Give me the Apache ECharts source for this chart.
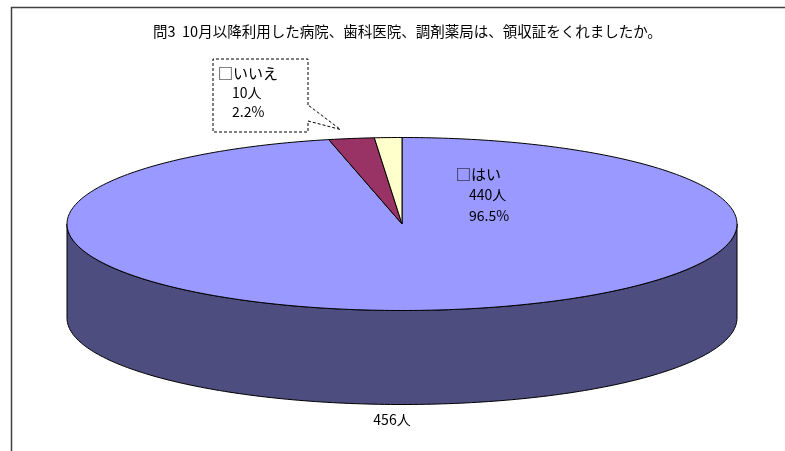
<!DOCTYPE html>
<html>
<head>
<meta charset="utf-8">
<script src="https://cdn.jsdelivr.net/npm/echarts@6/dist/echarts.min.js"></script>
<style>
html, body { margin: 0; padding: 0; background: #fff; }
#chart { width: 785px; height: 451px; }
</style>
</head>
<body>
<div id="chart"></div>
<script>
// データ
var categories = ['はい', 'いいえ', '無回答'];
var counts = [440, 10, 6];
var totalText = '456人';
var titleText = '問3  10月以降利用した病院、歯科医院、調剤薬局は、領収証をくれましたか。';

// 色
var topColors = ['#9999FF', '#993366', '#FFFFCC'];
var sideColors = ['#4D4D80', '#4D1A33', '#808066'];

// 楕円の形 (3D円グラフ)
var cx = 402, cy = 224, rx = 335, ry = 86.5, depth = 94;
var FONT = '"Noto Sans CJK JP", sans-serif';

// ラベル位置
var labelLayout = [
    { x: 456, y: 174, indent: 13, lh: 21 },
    { x: 218, y: 73, indent: 14, lh: 19.5 },
    null
];
var calloutBox = [213, 59, 95, 73];

var total = counts.reduce(function (a, b) { return a + b; }, 0);

function pt(deg, dz) {
    var r = deg * Math.PI / 180;
    return [cx + rx * Math.cos(r), cy - ry * Math.sin(r) + (dz || 0)];
}

function arc(from, to, dz) {
    // from > to (時計回り)
    var pts = [];
    for (var t = from; t > to; t -= 1) pts.push(pt(t, dz));
    pts.push(pt(to, dz));
    return pts;
}

function renderItem(params, api) {
    var i = params.dataIndex;
    var before = 0;
    for (var j = 0; j < i; j++) before += counts[j];
    var v = api.value(0);
    var a0 = 90 - 360 * before / total;
    var a1 = 90 - 360 * (before + v) / total;
    var children = [];

    // 側面 (手前側のみ)
    var s0 = Math.min(a0, 0), s1 = Math.max(a1, -180);
    if (s0 > s1) {
        var topEdge = arc(s0, s1, 0);
        var botEdge = arc(s0, s1, depth).reverse();
        children.push({
            type: 'polygon',
            shape: { points: topEdge.concat(botEdge) },
            style: { fill: sideColors[i], stroke: '#000', lineWidth: 1 }
        });
    }

    // 上面
    children.push({
        type: 'polygon',
        shape: { points: [[cx, cy]].concat(arc(a0, a1, 0)) },
        style: { fill: topColors[i], stroke: '#000', lineWidth: 1 }
    });

    // ラベル
    var lay = labelLayout[i];
    if (lay) {
        var pct = (v / total * 100).toFixed(1) + '%';
        var lines = ['□' + categories[i], v + '人', pct];
        lines.forEach(function (s, k) {
            children.push({
                type: 'text',
                x: lay.x + (k ? lay.indent : 0),
                y: lay.y + k * lay.lh,
                style: {
                    text: s, fill: '#000', font: (k ? '14px ' : '15px ') + FONT,
                    textAlign: 'left', textVerticalAlign: 'middle'
                }
            });
        });
        if (i === 1) {
            var mid = (a0 + a1) / 2;
            var edge = pt(mid, 0);
            var tip = [edge[0] - 11, edge[1] - 9];
            var bx = calloutBox[0], by = calloutBox[1], bw = calloutBox[2], bh = calloutBox[3];
            var rxp = bx + bw;
            children.push({
                type: 'polygon',
                shape: {
                    points: [[rxp, by + 46], [rxp, by], [bx, by], [bx, by + bh],
                        [rxp, by + bh], [rxp, by + 62], tip]
                },
                style: { fill: 'rgba(0,0,0,0)', stroke: '#000', lineWidth: 1, lineDash: [3, 2] }
            });
        }
    }
    return { type: 'group', children: children };
}

var myChart = echarts.init(document.getElementById('chart'));
option = {
    animation: false,
    title: {
        text: titleText,
        left: 148,
        top: 19,
        textStyle: { fontFamily: FONT, fontSize: 14.5, fontWeight: 'normal', color: '#000' }
    },
    graphic: [
        {
            type: 'rect',
            shape: { x: 11.5, y: 7.5, width: 800, height: 500 },
            style: { fill: 'rgba(0,0,0,0)', stroke: '#404040', lineWidth: 1.5 }
        },
        {
            type: 'text',
            x: 392, y: 420,
            style: {
                text: totalText, fill: '#000', font: '14px ' + FONT,
                textAlign: 'center', textVerticalAlign: 'middle'
            }
        }
    ],
    series: [{
        type: 'custom',
        coordinateSystem: 'none',
        renderItem: renderItem,
        data: counts.map(function (c, k) { return { name: categories[k], value: c }; })
    }]
};
myChart.setOption(option);
</script>
</body>
</html>
